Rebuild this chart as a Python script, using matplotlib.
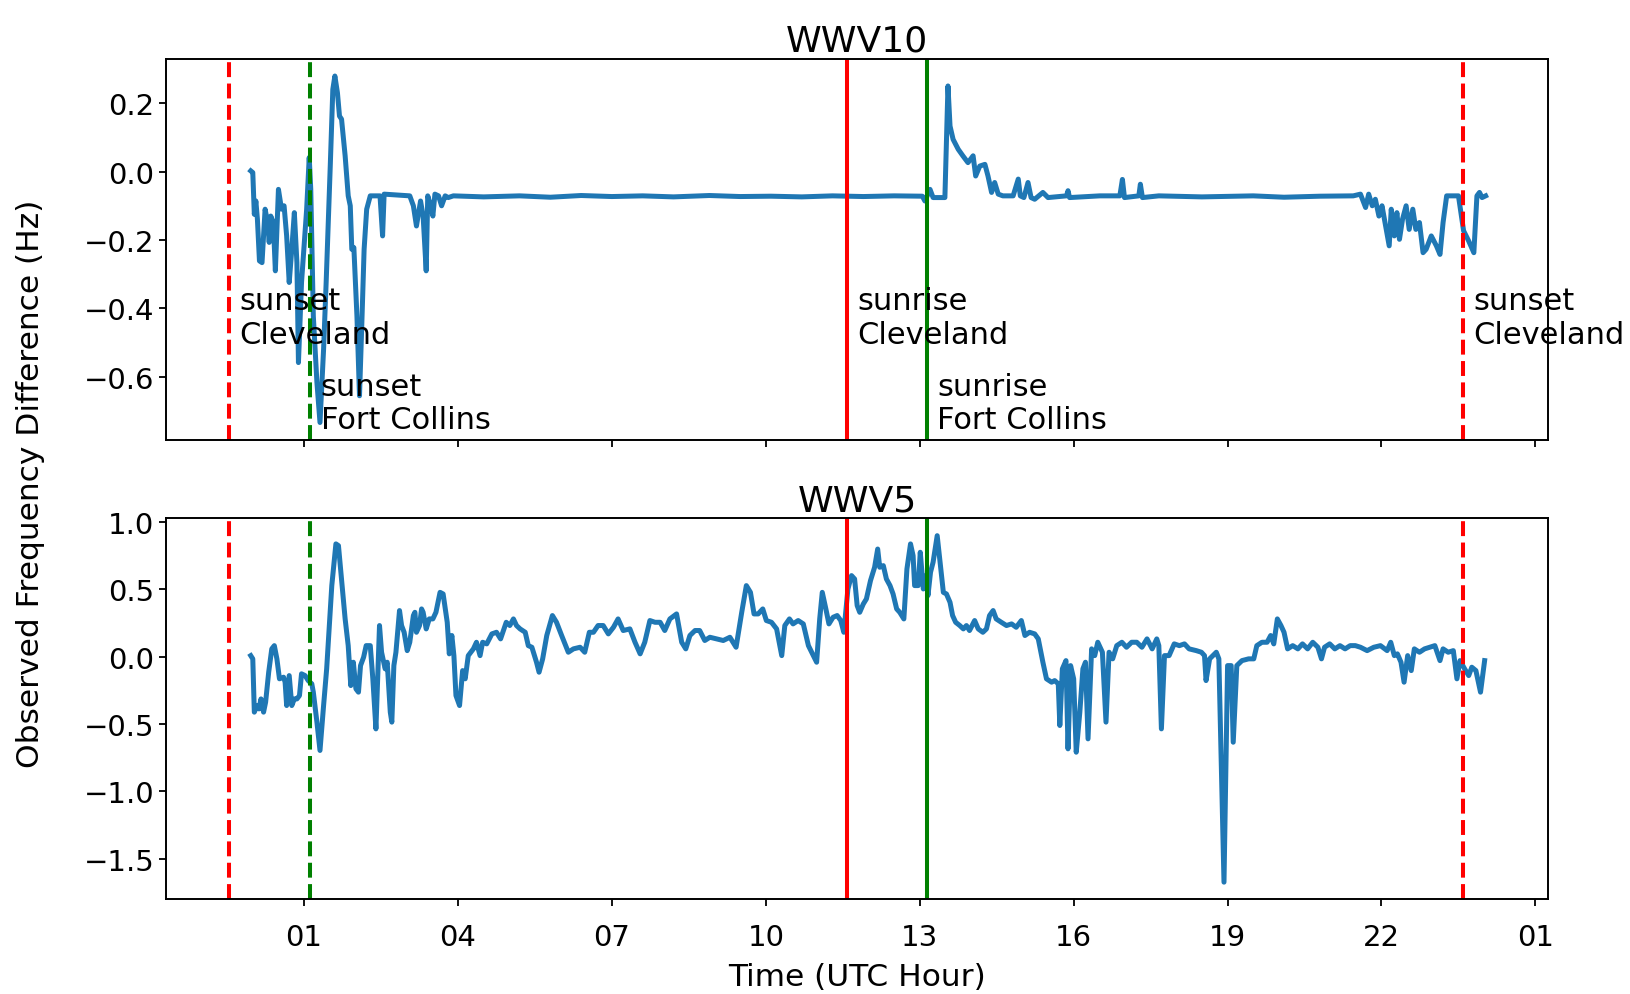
import numpy as np
import matplotlib
matplotlib.use("Agg")
import matplotlib.pyplot as plt

# WWV10 trace: (UTC hour, Hz)
wwv10_pts = [
    (-0.04, 0.002), (0.00, -0.003), (0.03, -0.125), (0.06, -0.086), (0.09, -0.139),
    (0.13, -0.261), (0.18, -0.266), (0.24, -0.110), (0.29, -0.149), (0.32, -0.207),
    (0.35, -0.130), (0.40, -0.149), (0.44, -0.290), (0.50, -0.052), (0.56, -0.110),
    (0.61, -0.100), (0.66, -0.188), (0.71, -0.324), (0.76, -0.227), (0.81, -0.120),
    (0.86, -0.266), (0.89, -0.558), (0.95, -0.324), (1.05, -0.110), (1.10, 0.041),
    (1.13, -0.052), (1.18, -0.422), (1.25, -0.616), (1.31, -0.733), (1.38, -0.519),
    (1.43, -0.324), (1.51, 0.016), (1.56, 0.240), (1.60, 0.279), (1.65, 0.230),
    (1.69, 0.162), (1.73, 0.153), (1.80, 0.046), (1.86, -0.071), (1.90, -0.100),
    (1.93, -0.227), (1.97, -0.222), (2.03, -0.422), (2.08, -0.655), (2.12, -0.470),
    (2.17, -0.227), (2.22, -0.110), (2.29, -0.071), (2.48, -0.071), (2.53, -0.188),
    (2.56, -0.066), (3.06, -0.071), (3.13, -0.100), (3.19, -0.159), (3.27, -0.086),
    (3.32, -0.130), (3.38, -0.290), (3.41, -0.071), (3.47, -0.100), (3.51, -0.130),
    (3.55, -0.066), (3.62, -0.071), (3.68, -0.100), (3.75, -0.071), (3.81, -0.076),
    (3.91, -0.071), (4.5, -0.074), (5.2, -0.071), (5.8, -0.075), (6.4, -0.070),
    (7.0, -0.073), (7.6, -0.071), (8.2, -0.074), (8.9, -0.070), (9.5, -0.073),
    (10.1, -0.072), (10.7, -0.074), (11.3, -0.071), (11.9, -0.073), (12.5, -0.071),
    (13.05, -0.072), (13.10, -0.086), (13.20, -0.052), (13.26, -0.076), (13.49, -0.076),
    (13.55, 0.250), (13.59, 0.133), (13.65, 0.094), (13.75, 0.065), (13.84, 0.046),
    (13.94, 0.026), (14.04, 0.046), (14.09, -0.013), (14.17, 0.016), (14.27, 0.021),
    (14.33, -0.013), (14.40, -0.061), (14.46, -0.032), (14.53, -0.066), (14.62, -0.071),
    (14.82, -0.071), (14.92, -0.022), (14.96, -0.071), (15.03, -0.076), (15.11, -0.032),
    (15.17, -0.076), (15.24, -0.081), (15.40, -0.061), (15.50, -0.076), (15.86, -0.071),
    (15.89, -0.056), (15.92, -0.076), (16.51, -0.071), (16.90, -0.071), (16.95, -0.023),
    (16.99, -0.076), (17.27, -0.071), (17.30, -0.037), (17.34, -0.076), (17.66, -0.071),
    (18.5, -0.074), (19.5, -0.071), (20.1, -0.075), (20.8, -0.072), (21.45, -0.071),
    (21.59, -0.066), (21.69, -0.105), (21.75, -0.066), (21.82, -0.100), (21.88, -0.081),
    (21.95, -0.130), (22.01, -0.100), (22.08, -0.159), (22.15, -0.217), (22.19, -0.110),
    (22.25, -0.188), (22.30, -0.120), (22.35, -0.198), (22.41, -0.139), (22.48, -0.100),
    (22.54, -0.169), (22.61, -0.110), (22.67, -0.169), (22.74, -0.149), (22.81, -0.237),
    (22.87, -0.227), (22.97, -0.188), (23.07, -0.217), (23.14, -0.242), (23.20, -0.149),
    (23.27, -0.071), (23.50, -0.071), (23.60, -0.173), (23.70, -0.203), (23.80, -0.237),
    (23.86, -0.071), (23.91, -0.061), (23.96, -0.076), (24.03, -0.071),
]

# WWV5 trace: (UTC hour, Hz)
wwv5_pts = [
    (-0.04, 0.007), (0.00, -0.017), (0.03, -0.412), (0.08, -0.363), (0.12, -0.388),
    (0.16, -0.314), (0.21, -0.412), (0.25, -0.338), (0.31, -0.116), (0.37, 0.057),
    (0.42, 0.081), (0.47, -0.017), (0.52, -0.165), (0.60, -0.153), (0.63, -0.190),
    (0.66, -0.363), (0.71, -0.141), (0.76, -0.363), (0.81, -0.314), (0.86, -0.314),
    (0.91, -0.289), (0.95, -0.128), (1.02, -0.141), (1.08, -0.178), (1.15, -0.202),
    (1.18, -0.264), (1.25, -0.486), (1.31, -0.696), (1.38, -0.363), (1.44, -0.091),
    (1.54, 0.526), (1.62, 0.835), (1.67, 0.822), (1.73, 0.575), (1.80, 0.279),
    (1.86, 0.081), (1.91, -0.215), (1.96, -0.042), (2.01, -0.239), (2.06, -0.264),
    (2.10, -0.067), (2.16, -0.005), (2.21, 0.081), (2.29, 0.081), (2.34, -0.165),
    (2.40, -0.536), (2.47, 0.230), (2.51, 0.032), (2.58, -0.091), (2.62, -0.042),
    (2.68, -0.412), (2.71, -0.486), (2.75, -0.067), (2.79, 0.032), (2.86, 0.341),
    (2.90, 0.230), (2.95, 0.180), (3.01, 0.044), (3.06, 0.106), (3.13, 0.304),
    (3.16, 0.328), (3.19, 0.180), (3.25, 0.230), (3.29, 0.353), (3.32, 0.328),
    (3.38, 0.205), (3.44, 0.279), (3.51, 0.279), (3.57, 0.328), (3.65, 0.476),
    (3.71, 0.464), (3.79, 0.254), (3.83, 0.020), (3.88, 0.156), (3.92, 0.007),
    (3.96, -0.289), (4.03, -0.363), (4.09, -0.104), (4.14, -0.165), (4.20, 0.007),
    (4.30, 0.057), (4.36, 0.106), (4.43, 0.007), (4.48, 0.106), (4.56, 0.094),
    (4.66, 0.168), (4.75, 0.180), (4.83, 0.131), (4.94, 0.254), (5.01, 0.230),
    (5.08, 0.279), (5.14, 0.230), (5.21, 0.205), (5.31, 0.180), (5.37, 0.081),
    (5.44, 0.069), (5.53, -0.042), (5.58, -0.116), (5.65, -0.017), (5.73, 0.156),
    (5.84, 0.304), (5.92, 0.254), (6.02, 0.156), (6.10, 0.081), (6.15, 0.032),
    (6.25, 0.057), (6.38, 0.069), (6.47, 0.032), (6.56, 0.180), (6.64, 0.180),
    (6.73, 0.230), (6.83, 0.230), (6.93, 0.168), (7.03, 0.217), (7.12, 0.279),
    (7.22, 0.193), (7.35, 0.205), (7.45, 0.106), (7.55, 0.020), (7.64, 0.106),
    (7.74, 0.267), (7.84, 0.254), (7.94, 0.254), (8.03, 0.193), (8.13, 0.279),
    (8.26, 0.316), (8.36, 0.106), (8.44, 0.057), (8.52, 0.156), (8.62, 0.193),
    (8.71, 0.193), (8.81, 0.119), (8.91, 0.143), (9.04, 0.131), (9.17, 0.119),
    (9.30, 0.143), (9.42, 0.069), (9.53, 0.328), (9.62, 0.526), (9.70, 0.476),
    (9.77, 0.316), (9.85, 0.316), (9.94, 0.353), (10.01, 0.267), (10.11, 0.254),
    (10.21, 0.205), (10.31, 0.007), (10.37, 0.230), (10.46, 0.279), (10.53, 0.242),
    (10.63, 0.267), (10.73, 0.242), (10.83, 0.081), (10.99, -0.042), (11.05, 0.279),
    (11.10, 0.476), (11.17, 0.353), (11.23, 0.242), (11.31, 0.291), (11.39, 0.304),
    (11.46, 0.267), (11.52, 0.180), (11.60, 0.501), (11.67, 0.600), (11.73, 0.575),
    (11.78, 0.378), (11.83, 0.328), (11.90, 0.390), (11.96, 0.427), (12.04, 0.563),
    (12.12, 0.662), (12.18, 0.797), (12.22, 0.662), (12.29, 0.674), (12.35, 0.575),
    (12.42, 0.526), (12.48, 0.464), (12.55, 0.353), (12.61, 0.328), (12.69, 0.279),
    (12.75, 0.649), (12.82, 0.835), (12.87, 0.748), (12.90, 0.526), (12.97, 0.526),
    (13.01, 0.773), (13.07, 0.501), (13.12, 0.600), (13.16, 0.452), (13.21, 0.625),
    (13.26, 0.699), (13.34, 0.896), (13.39, 0.723), (13.46, 0.476), (13.52, 0.464),
    (13.59, 0.402), (13.64, 0.304), (13.70, 0.254), (13.78, 0.230), (13.85, 0.205),
    (13.91, 0.230), (13.97, 0.193), (14.07, 0.267), (14.14, 0.205), (14.23, 0.180),
    (14.30, 0.205), (14.36, 0.304), (14.43, 0.341), (14.49, 0.279), (14.59, 0.254),
    (14.69, 0.230), (14.79, 0.242), (14.88, 0.217), (14.98, 0.267), (15.05, 0.156),
    (15.14, 0.180), (15.24, 0.168), (15.31, 0.131), (15.40, -0.042), (15.47, -0.165),
    (15.57, -0.190), (15.63, -0.178), (15.70, -0.202), (15.73, -0.511), (15.78, -0.091),
    (15.85, -0.030), (15.89, -0.684), (15.94, -0.067), (16.00, -0.165), (16.05, -0.709),
    (16.12, -0.412), (16.18, -0.091), (16.23, -0.042), (16.28, -0.610), (16.35, 0.057),
    (16.41, 0.007), (16.47, 0.106), (16.56, 0.032), (16.63, -0.486), (16.69, 0.032),
    (16.76, -0.017), (16.84, 0.081), (16.94, 0.106), (17.03, 0.069), (17.13, 0.106),
    (17.23, 0.106), (17.33, 0.069), (17.43, 0.131), (17.53, 0.057), (17.62, 0.131),
    (17.66, 0.081), (17.71, -0.536), (17.77, 0.007), (17.86, 0.007), (17.96, 0.094),
    (18.06, 0.081), (18.16, 0.094), (18.25, 0.057), (18.39, 0.044), (18.49, 0.032),
    (18.55, 0.007), (18.58, -0.178), (18.65, -0.017), (18.78, 0.032), (18.83, -0.017),
    (18.93, -1.672), (19.00, -0.067), (19.07, -0.067), (19.11, -0.635), (19.18, -0.067),
    (19.28, -0.030), (19.41, -0.017), (19.51, -0.017), (19.57, 0.081), (19.67, 0.106),
    (19.77, 0.106), (19.84, 0.156), (19.90, 0.094), (19.97, 0.279), (20.04, 0.230),
    (20.10, 0.180), (20.17, 0.057), (20.27, 0.081), (20.37, 0.057), (20.46, 0.094),
    (20.56, 0.057), (20.66, 0.106), (20.76, 0.069), (20.83, -0.017), (20.89, 0.069),
    (20.99, 0.094), (21.09, 0.057), (21.19, 0.081), (21.29, 0.057), (21.39, 0.081),
    (21.49, 0.081), (21.59, 0.069), (21.72, 0.044), (21.85, 0.069), (21.98, 0.081),
    (22.11, 0.044), (22.18, 0.106), (22.25, 0.007), (22.31, 0.020), (22.38, -0.042),
    (22.44, -0.190), (22.51, 0.007), (22.58, -0.104), (22.64, 0.057), (22.74, 0.032),
    (22.84, 0.057), (22.94, 0.069), (23.04, 0.081), (23.14, -0.030), (23.20, 0.057),
    (23.30, 0.032), (23.40, 0.044), (23.47, -0.165), (23.53, -0.030), (23.62, -0.091),
    (23.70, -0.141), (23.76, -0.079), (23.84, -0.104), (23.93, -0.264), (24.01, -0.030),
]

# sunrise / sunset markers (UTC hour)
sunset_cle = [-0.46, 23.59]
sunset_fc = 1.12
sunrise_cle = 11.58
sunrise_fc = 13.14

xticks = np.arange(1, 26, 3)
xticklabels = ["%02d" % (t % 24) for t in xticks]

plt.rcParams["font.size"] = 21
plt.rcParams["axes.linewidth"] = 1.4
plt.rcParams["xtick.major.size"] = 5
plt.rcParams["ytick.major.size"] = 5
plt.rcParams["xtick.major.width"] = 1.3
plt.rcParams["ytick.major.width"] = 1.3

fig, (ax1, ax2) = plt.subplots(2, 1, sharex=True, figsize=(16.31, 9.95), dpi=100)
fig.subplots_adjust(left=0.102, right=0.9494, top=0.940, bottom=0.095, hspace=0.206)

for ax, pts, name in [(ax1, wwv10_pts, "WWV10"), (ax2, wwv5_pts, "WWV5")]:
    hh, vv = np.array(pts).T
    ax.plot(hh, vv, color="tab:blue", lw=3.6)
    for s in sunset_cle:
        ax.axvline(s, color="r", ls="--", lw=2.9)
    ax.axvline(sunset_fc, color="g", ls="--", lw=2.9)
    ax.axvline(sunrise_cle, color="r", lw=2.9)
    ax.axvline(sunrise_fc, color="g", lw=2.9)
    ax.set_title(name, fontsize=26)

ax1.text(sunset_cle[0] + 0.2, -0.5, "sunset\nCleveland", fontsize=22)
ax1.text(sunset_cle[1] + 0.2, -0.5, "sunset\nCleveland", fontsize=22)
ax1.text(sunrise_cle + 0.2, -0.5, "sunrise\nCleveland", fontsize=22)
ax1.text(sunset_fc + 0.2, -0.75, "sunset\nFort Collins", fontsize=22)
ax1.text(sunrise_fc + 0.2, -0.75, "sunrise\nFort Collins", fontsize=22)

ax1.set_yticks([0.2, 0.0, -0.2, -0.4, -0.6])
ax2.set_yticks([1.0, 0.5, 0.0, -0.5, -1.0, -1.5])
ax2.set_xticks(xticks)
ax2.set_xticklabels(xticklabels)
ax2.tick_params(axis="x", pad=12)
ax2.set_xlabel("Time (UTC Hour)", fontsize=22.5, labelpad=8)
fig.text(0.019, 0.514, "Observed Frequency Difference (Hz)", rotation=90,
         va="center", ha="center", fontsize=22.5)

plt.savefig("out.png")
